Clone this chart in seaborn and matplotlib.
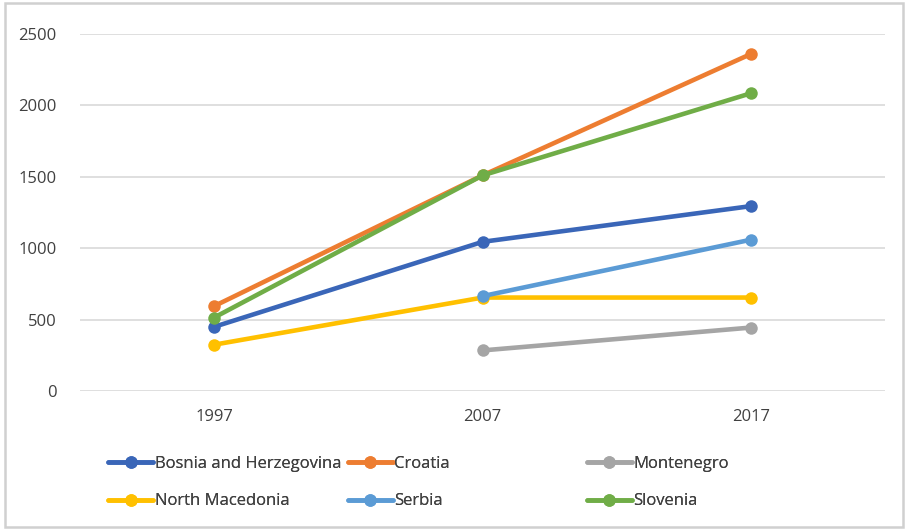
import numpy as np
import pandas as pd
import matplotlib.pyplot as plt
import seaborn as sns
from matplotlib.patches import Rectangle

# data
years = [1997, 2007, 2017]
bosnia = [450, 1045, 1295]
croatia = [595, 1510, 2360]
montenegro = [np.nan, 285, 445]
north_macedonia = [325, 655, 655]
serbia = [np.nan, 665, 1060]
slovenia = [515, 1510, 2085]

countries = ["Bosnia and Herzegovina", "Croatia", "Montenegro",
             "North Macedonia", "Serbia", "Slovenia"]
series = [bosnia, croatia, montenegro, north_macedonia, serbia, slovenia]
colors = ["#3A66B8", "#ED7D31", "#A5A5A5", "#FFC000", "#5B9BD5", "#70AD47"]

rows = []
for name, vals in zip(countries, series):
    for yr, v in zip(years, vals):
        rows.append({"year": yr, "value": v, "country": name})
df = pd.DataFrame(rows).dropna()

sns.set_theme(style="white")
plt.rcParams['font.family'] = ['Open Sans', 'DejaVu Sans']

fig = plt.figure(figsize=(9.08, 5.30), dpi=100)
ax = fig.add_axes([0.088, 0.262, 0.887, 0.674])

sns.lineplot(data=df, x="year", y="value", hue="country", hue_order=countries,
             palette=dict(zip(countries, colors)), marker="o", markersize=9,
             markeredgewidth=0, linewidth=3.3, ax=ax, legend=False)

ax.set_xlim(1992, 2022)
ax.set_ylim(0, 2500)
ax.set_xticks(years)
ax.set_xticklabels([str(y) for y in years])
ax.set_yticks(range(0, 2501, 500))
ax.yaxis.grid(True, color="#D9D9D9", linewidth=1.2)
ax.set_axisbelow(True)
for s in ax.spines.values():
    s.set_visible(False)
ax.tick_params(axis="y", length=0, pad=17, labelsize=12, labelcolor="#404040")
ax.tick_params(axis="x", length=0, pad=13, labelsize=12, labelcolor="#404040")
ax.set_xlabel("")
ax.set_ylabel("")

# legend laid out in three equal columns, like the original
handles = ax.get_lines()
by_name = dict(zip(countries, handles[:len(countries)]))
cols = [["Bosnia and Herzegovina", "North Macedonia"],
        ["Croatia", "Serbia"],
        ["Montenegro", "Slovenia"]]
xs = [0.119, 0.383, 0.646]
for x0, names in zip(xs, cols):
    hs = [plt.Line2D([], [], color=by_name[n].get_color(), lw=3.3, marker="o",
                     markersize=9, markeredgewidth=0) for n in names]
    leg = fig.legend(hs, names, loc="upper left", bbox_to_anchor=(x0, 0.14),
                     frameon=False, fontsize=12, handlelength=2.7,
                     handletextpad=0.1, labelspacing=1.3, borderaxespad=0,
                     borderpad=0)
    for t in leg.get_texts():
        t.set_color("#404040")
    fig.add_artist(leg)

fig.add_artist(Rectangle((0.005, 0.005), 0.99, 0.99, transform=fig.transFigure,
                         fill=False, edgecolor="#D0D0D0", linewidth=1.8))

fig.savefig("out.png", dpi=100)
